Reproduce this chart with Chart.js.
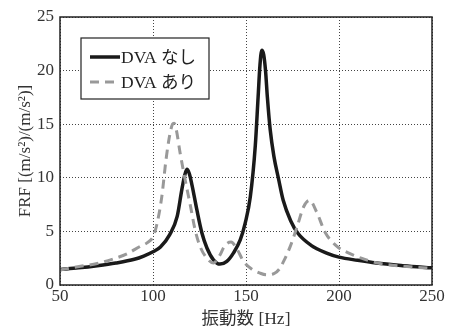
<!DOCTYPE html>
<html>
<head>
<meta charset="utf-8">
<script src="https://cdn.jsdelivr.net/npm/chart.js@4/dist/chart.umd.min.js"></script>
<style>
  html, body { margin: 0; padding: 0; background: #fff; }
  #wrap { width: 449px; height: 327px; }
</style>
</head>
<body>
<div id="wrap"><canvas id="frf" width="449" height="327"></canvas></div>
<script>
// FRF curves, frequency in Hz
const freqSolid = [50,60,70,80,90,95,100,104,109,113,115.5,117,118.2,119.5,121,123.6,126.3,129,132.5,136,
  139.7,143.3,146.9,149.6,152.3,155,156.5,157.5,158.5,159.5,160.5,161.5,163,165,167.5,170,174,178,185,193,
  200,210,220,235,250];
const frfSolid = [1.45,1.6,1.8,2.05,2.4,2.7,3.1,3.55,4.7,6.4,8.9,10.2,10.8,10.4,9.3,7.0,4.85,3.45,2.35,1.95,
  2.2,3.0,4.2,5.8,8.2,13.0,17.5,20.5,21.9,21.5,20.0,17.5,14.5,12.0,9.9,7.9,6.0,4.8,3.7,3.0,
  2.6,2.3,2.05,1.8,1.6];

const freqDashed = [50,61,70,79,86,93,97,100,102,104.7,107,109,110.5,111.3,112.5,114.6,117.3,120,122.7,125.3,
  129,132.5,136,138,140,142,145,148.7,153,157.6,161,165,168,170.2,173.8,177.4,181,184.2,188,192.6,
  198.9,205,212,222,235,250];
const frfDashed = [1.4,1.75,2.0,2.45,2.9,3.6,3.95,4.5,5.6,8.2,11.7,14.0,15.0,15.1,14.5,12.3,9.8,7.5,5.1,3.6,
  2.5,2.05,2.8,3.5,3.9,4.0,3.4,2.2,1.5,1.1,0.95,1.05,1.5,2.2,3.6,5.4,7.3,7.9,6.8,4.9,
  3.6,3.0,2.5,2.0,1.75,1.55];

const seriesNames = ['DVA なし', 'DVA あり'];
const xTicks = [50, 100, 150, 200, 250];
const yTicks = [0, 5, 10, 15, 20, 25];

const SERIF = '"Liberation Serif", "Noto Sans CJK JP", serif';
const INK = '#222';

const toPoints = (xs, ys) => xs.map((x, i) => ({ x, y: ys[i] }));

// legend box drawn inside the plot, top-left; frame drawn over everything
const boxLegend = {
  id: 'boxLegend',
  afterDatasetsDraw(chart) {
    const ctx = chart.ctx;
    const { left, top } = chart.chartArea;
    const bx = left + 21, by = top + 21, bw = 128, bh = 61;
    ctx.save();
    ctx.fillStyle = '#fff';
    ctx.fillRect(bx, by, bw, bh);
    ctx.strokeStyle = INK;
    ctx.lineWidth = 1.2;
    ctx.strokeRect(bx, by, bw, bh);
    chart.data.datasets.forEach((ds, i) => {
      const y = by + 19 + i * 25;
      ctx.beginPath();
      ctx.strokeStyle = ds.borderColor;
      ctx.lineWidth = ds.borderWidth;
      ctx.setLineDash(ds.borderDash || []);
      ctx.moveTo(bx + 9, y);
      ctx.lineTo(bx + 39, y);
      ctx.stroke();
      ctx.setLineDash([]);
      ctx.fillStyle = INK;
      ctx.font = '17.5px ' + SERIF;
      ctx.textBaseline = 'middle';
      ctx.fillText(ds.label, bx + 40, y + 1);
    });
    ctx.restore();
  },
  afterDraw(chart) {
    const { left, top, right, bottom } = chart.chartArea;
    const ctx = chart.ctx;
    ctx.save();
    ctx.strokeStyle = INK;
    ctx.lineWidth = 1.5;
    ctx.setLineDash([]);
    ctx.strokeRect(left, top, right - left, bottom - top);
    ctx.restore();
  }
};

new Chart(document.getElementById('frf'), {
  type: 'line',
  data: {
    datasets: [
      {
        label: seriesNames[0],
        data: toPoints(freqSolid, frfSolid),
        borderColor: '#1a1a1a',
        borderWidth: 3.5,
        pointRadius: 0,
        cubicInterpolationMode: 'monotone',
        order: 2
      },
      {
        label: seriesNames[1],
        data: toPoints(freqDashed, frfDashed),
        borderColor: '#999',
        borderWidth: 3,
        borderDash: [9, 6],
        pointRadius: 0,
        cubicInterpolationMode: 'monotone',
        order: 1
      }
    ]
  },
  options: {
    responsive: false,
    animation: false,
    layout: { padding: { top: 17, right: 17, left: 0, bottom: 0 } },
    plugins: { legend: { display: false }, tooltip: { enabled: false } },
    scales: {
      x: {
        type: 'linear',
        min: 50, max: 250,
        afterFit: s => { s.height = 42; },
        afterBuildTicks: s => { s.ticks = xTicks.map(v => ({ value: v })); },
        grid: { color: '#444', lineWidth: 1, drawTicks: false },
        border: { display: false, dash: [1, 2] },
        ticks: { color: '#333', padding: 1, font: { family: SERIF, size: 17 } },
        title: { display: true, text: '振動数 [Hz]', color: '#333', padding: { top: 0, bottom: -3 },
                 font: { family: SERIF, size: 17.5 } }
      },
      y: {
        min: 0, max: 25,
        afterFit: s => { s.width = 60; },
        afterBuildTicks: s => { s.ticks = yTicks.map(v => ({ value: v })); },
        grid: { color: '#444', lineWidth: 1, drawTicks: false },
        border: { display: false, dash: [1, 2] },
        ticks: { color: '#333', padding: 6, font: { family: SERIF, size: 17 } },
        title: { display: true, text: 'FRF [(m/s²)/(m/s²)]', color: '#333', padding: { top: 15, bottom: 0 },
                 font: { family: SERIF, size: 17 } }
      }
    }
  },
  plugins: [boxLegend]
});
</script>
</body>
</html>
